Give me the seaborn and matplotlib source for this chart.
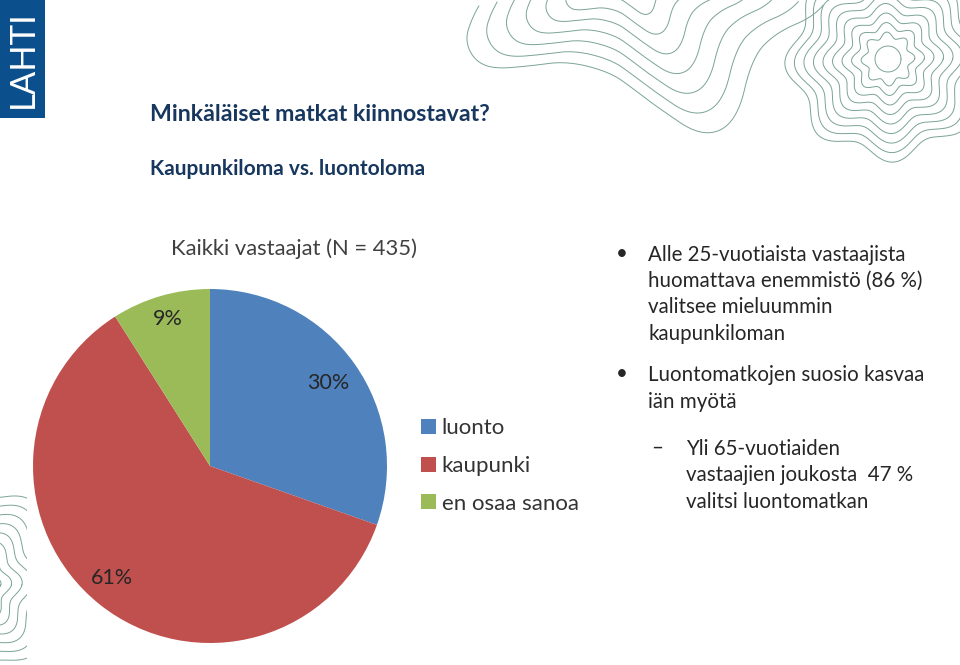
import numpy as np
import matplotlib.pyplot as plt
from matplotlib.patches import Rectangle
import seaborn as sns

categories = ['luonto', 'kaupunki', 'en osaa sanoa']
shares = [30.4, 60.6, 9.0]
slice_colors = ['#4F81BD', '#C0504D', '#9BBB59']

title = 'Minkäläiset matkat kiinnostavat?'
subtitle = 'Kaupunkiloma vs. luontoloma'
chart_title = 'Kaikki vastaajat (N = 435)'

bullet_lines = ['Alle 25-vuotiaista vastaajista', 'huomattava enemmistö (86 %)',
                'valitsee mieluummin', 'kaupunkiloman',
                'Luontomatkojen suosio kasvaa', 'iän myötä']
bullet_ys = [255, 281, 307, 334, 375, 402]
sub_lines = ['Yli 65-vuotiaiden', 'vastaajien joukosta  47 %', 'valitsi luontomatkan']
sub_ys = [449, 475, 502]

# outermost line of the wavy decoration at the top
blob_x = [485, 472, 465, 474, 493, 530, 567, 610, 635, 657, 703, 737, 752, 777, 813, 832]
blob_y = [-5, 18, 40, 60, 69, 66, 61, 72, 90, 107, 138, 122, 57, 32, 17, -5]

H = 665
LINE = '#7ba397'


def smooth(x, y, n=4):
    # chaikin corner cutting
    pts = np.column_stack([x, y]).astype(float)
    for _ in range(n):
        a = pts[:-1] * 0.75 + pts[1:] * 0.25
        b = pts[:-1] * 0.25 + pts[1:] * 0.75
        pts = np.column_stack([a, b]).reshape(-1, 2)
    return pts[:, 0], pts[:, 1]


def star(ax, cx, cy, radii, lobes=8, clip=None):
    t = np.linspace(0, 2 * np.pi, 500)
    for r in radii:
        rr = r + (1.5 + r * 0.06) * np.cos(lobes * t + 0.4)
        line, = ax.plot(cx + rr * np.cos(t), H - (cy + rr * np.sin(t)), color=LINE, lw=0.7)
        if clip is not None:
            line.set_clip_path(clip)


sns.set_theme(style='white')
plt.rcParams['font.family'] = ['Lato', 'DejaVu Sans']

fig = plt.figure(figsize=(9.6, 6.65), dpi=100)
ax = fig.add_axes([0, 0, 1, 1])

wedges, _ = ax.pie(shares, colors=slice_colors, startangle=90, counterclock=False,
                   center=(210, H - 466), radius=177,
                   wedgeprops={'edgecolor': 'none', 'linewidth': 0})
ax.set_xlim(0, 960)
ax.set_ylim(0, H)
ax.set_aspect('equal')
ax.axis('off')

# decoration
bx, by = smooth(blob_x, blob_y)
for k in range(7):
    f = 1 - k * 0.125
    ax.plot(625 + (bx - 625) * f, H - (-25 + (by + 25) * f), color=LINE, lw=0.7)
star(ax, 888, 59, np.arange(24, 100, 9))
star(ax, 888, 59, [11], lobes=0)
low_clip = Rectangle((0, 0), 27, 176, transform=ax.transData)
star(ax, -28, 585, np.arange(16, 110, 10), lobes=7, clip=low_clip)

# logo
ax.add_patch(Rectangle((0, H - 118), 45, 118, color='#0B4F8C', lw=0))
ax.text(23, H - 59, 'LAHTI', color='white', rotation=90, ha='center', va='center',
        fontsize=25, fontweight='normal')

ax.text(150, H - 121, title, color='#17375E', fontsize=16.7, fontweight='bold')
ax.text(150, H - 175, subtitle, color='#17375E', fontsize=15, fontweight='bold')
ax.text(171, H - 255, chart_title, color='#404040', fontsize=15.8)

# pie labels
label_pos = [(328, 383), (112, 578), (168, 319)]
for share, (x, y) in zip(shares, label_pos):
    ax.text(x, H - y, f'{share:.0f}%', color='#262626', fontsize=15.5, ha='center', va='center')

ax.legend(wedges, categories, loc='upper left', bbox_to_anchor=(410, H - 407),
          bbox_transform=ax.transData, frameon=False, fontsize=16, handlelength=0.65,
          handleheight=0.65, handletextpad=0.28, labelspacing=0.8, borderpad=0,
          labelcolor='#333333')

for txt, y in zip(bullet_lines, bullet_ys):
    ax.text(648, H - y, txt, color='#262626', fontsize=14.8, va='center')
for y in [254, 374]:
    ax.text(622, H - y, '•', color='#262626', fontsize=14.8, va='center', ha='center')
for txt, y in zip(sub_lines, sub_ys):
    ax.text(686, H - y, txt, color='#262626', fontsize=14.8, va='center')
ax.text(657, H - 448, '–', color='#262626', fontsize=14.8, va='center', ha='center')

fig.savefig('out.png', dpi=100)
